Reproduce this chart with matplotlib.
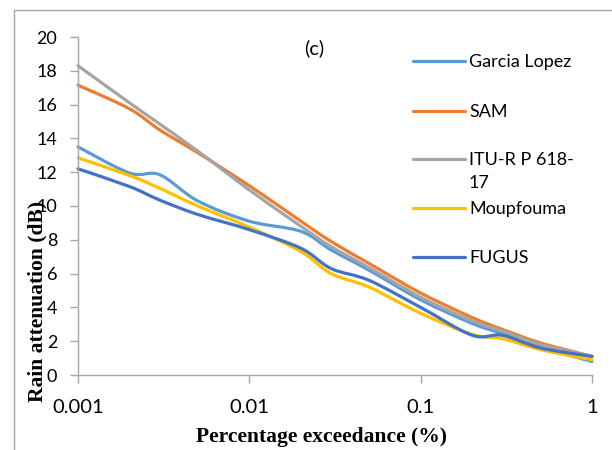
import numpy as np
import matplotlib
matplotlib.use("Agg")
import matplotlib.pyplot as plt
from matplotlib.path import Path
from matplotlib.patches import PathPatch, Rectangle
from matplotlib.lines import Line2D

# ---- data ----
pct = [0.001, 0.002, 0.003, 0.005, 0.01, 0.02, 0.03, 0.05, 0.1, 0.2, 0.3, 0.5, 1]
garcia_lopez = [13.5, 11.95, 11.85, 10.3, 9.1, 8.5, 7.4, 6.2, 4.45, 3.05, 2.45, 1.65, 0.8]
sam = [17.15, 15.75, 14.5, 13.15, 11.2, 9.1, 7.9, 6.6, 4.85, 3.4, 2.7, 1.9, 1.1]
itu = [18.3, 16.1, 14.85, 13.25, 10.95, 8.8, 7.6, 6.35, 4.6, 3.2, 2.6, 1.8, 1.1]
moupfouma = [12.85, 11.8, 11.05, 10.0, 8.75, 7.3, 6.0, 5.2, 3.65, 2.4, 2.15, 1.5, 0.9]
fugus = [12.2, 11.15, 10.35, 9.5, 8.6, 7.5, 6.3, 5.6, 4.0, 2.35, 2.35, 1.6, 1.1]

series_names = ["Garcia Lopez", "SAM", "ITU-R P 618-\n17", "Moupfouma", "FUGUS"]
series_values = [garcia_lopez, sam, itu, moupfouma, fugus]
series_colors = ["#5B9BD5", "#ED7D31", "#A5A5A5", "#FFC000", "#4472C4"]

xticks = [0.001, 0.01, 0.1, 1]
xtick_labels = ["0.001", "0.01", "0.1", "1"]
yticks = list(range(0, 21, 2))

W, H = 612, 450
fig = plt.figure(figsize=(W / 100, H / 100), dpi=100)
ax = fig.add_axes([78 / W, 1 - 375 / H, (592 - 78) / W, (375 - 37) / H])

ax.set_xscale("log")
ax.set_xlim(0.001, 1)
ax.set_ylim(0, 20)


def smooth_path(xs, ys):
    lx = np.log10(np.asarray(xs, float))
    y = np.asarray(ys, float)
    n = len(lx)
    verts = [(xs[0], y[0])]
    codes = [Path.MOVETO]
    for i in range(n - 1):
        a = max(i - 1, 0)
        b = min(i + 2, n - 1)
        c1x = lx[i] + (lx[i + 1] - lx[a]) / 6
        c1y = y[i] + (y[i + 1] - y[a]) / 6
        c2x = lx[i + 1] - (lx[b] - lx[i]) / 6
        c2y = y[i + 1] - (y[b] - y[i]) / 6
        verts += [(10 ** c1x, c1y), (10 ** c2x, c2y), (xs[i + 1], y[i + 1])]
        codes += [Path.CURVE4] * 3
    return Path(verts, codes)


for vals, col in zip(series_values, series_colors):
    patch = PathPatch(smooth_path(pct, vals), facecolor="none", edgecolor=col,
                      lw=2.3, capstyle="round", joinstyle="round", clip_on=False)
    ax.add_patch(patch)

axcol = "#A6A6A6"
for s in ["top", "right"]:
    ax.spines[s].set_visible(False)
for s in ["left", "bottom"]:
    ax.spines[s].set_color(axcol)
    ax.spines[s].set_linewidth(1.0)

ax.set_xticks(xticks)
ax.set_xticklabels(xtick_labels)
ax.xaxis.set_minor_locator(matplotlib.ticker.NullLocator())
ax.set_yticks(yticks)
ax.tick_params(axis="y", direction="out", length=6, width=1, color=axcol,
               pad=9, labelsize=13, labelcolor="black")
ax.tick_params(axis="x", direction="out", length=6, width=1, color=axcol,
               pad=11, labelsize=14.5, labelcolor="black")
for lab in ax.get_xticklabels() + ax.get_yticklabels():
    lab.set_fontfamily("Lato")

# outer chart border
fig.add_artist(Rectangle((14 / W, -0.5), 2, 1 - 10 / H + 0.5, transform=fig.transFigure,
                         fill=False, edgecolor=axcol, lw=1.0))

# legend (manual, Excel-style)
leg_y = [61, 111, 159, 208, 257]
for name, col, yc in zip(series_names, series_colors, leg_y):
    fy = 1 - yc / H
    fig.add_artist(Line2D([413 / W, 465 / W], [fy, fy], color=col, lw=2.3,
                          transform=fig.transFigure, solid_capstyle="round"))
    fig.text(469 / W, 1 - (yc - 7) / H, name, fontsize=13, family="Lato",
             ha="left", va="top", linespacing=1.55)

fig.text(314 / W, 1 - 48 / H, "(c)", fontsize=14.5, family="Lato", ha="center", va="center")

fig.text(37 / W, 1 - 301 / H, "Rain attenuation (dB)", rotation=90, fontsize=15.5,
         family="Liberation Serif", weight="bold", ha="center", va="center")
fig.text(321 / W, 1 - 437 / H, "Percentage exceedance (%)", fontsize=15.5,
         family="Liberation Serif", weight="bold", ha="center", va="center")

fig.savefig("out.png", dpi=100)
